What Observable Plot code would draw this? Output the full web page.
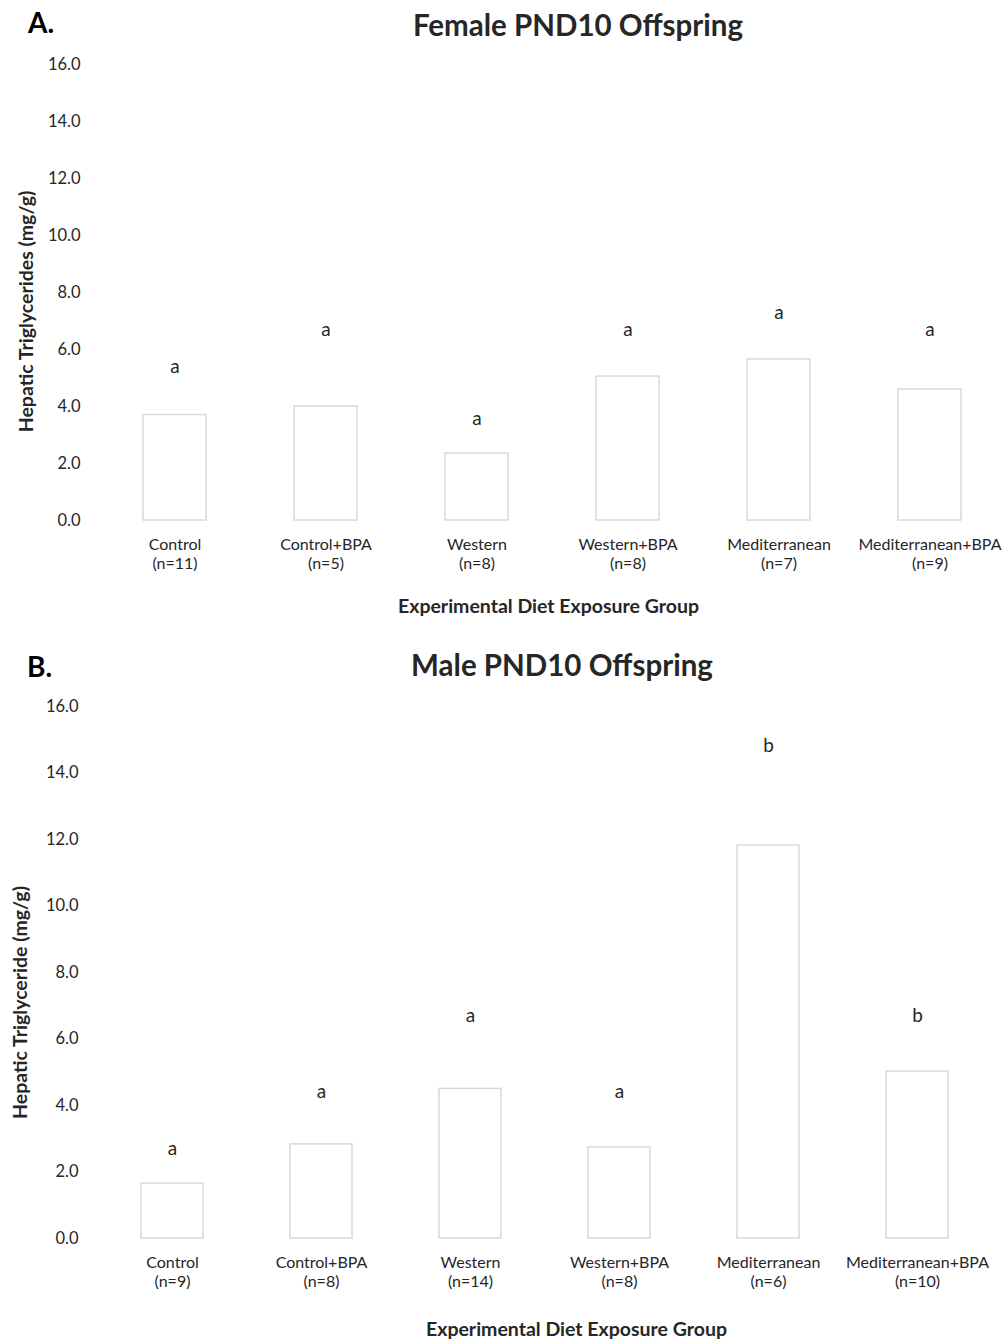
<!DOCTYPE html>
<html>
<head>
<meta charset="utf-8">
<script src="https://cdn.jsdelivr.net/npm/d3@7"></script>
<script src="https://cdn.jsdelivr.net/npm/@observablehq/plot@0.6"></script>
<style>
  html, body { margin: 0; padding: 0; background: #fff; }
  body { width: 1006px; height: 1339px; position: relative; overflow: hidden; font-family: Lato, "Open Sans", sans-serif; color: #262626; }
  .tag { position: absolute; font-weight: 700; font-size: 28px; line-height: 28px; color: #000; }
  .title { position: absolute; font-weight: 700; font-size: 29.5px; line-height: 29.5px; color: #262626; transform: translateX(-50%); white-space: nowrap; }
  .plot { position: absolute; left: 0; }
</style>
</head>
<body>
<div id="root"></div>
<script>
const groups = ["Control", "Control+BPA", "Western", "Western+BPA", "Mediterranean", "Mediterranean+BPA"];
const yTicks = [0, 2, 4, 6, 8, 10, 12, 14, 16];

// Panel A: female
const femaleN = [11, 5, 8, 8, 7, 9];
const femaleTG = [3.7, 4.0, 2.35, 5.05, 5.65, 4.6];
const femaleLetters = ["a", "a", "a", "a", "a", "a"];
const femaleLetterY = [5.4, 6.7, 3.55, 6.7, 7.3, 6.7];

// Panel B: male
const maleN = [9, 8, 14, 8, 6, 10];
const maleTG = [1.65, 2.83, 4.5, 2.74, 11.82, 5.02];
const maleLetters = ["a", "a", "a", "a", "b", "b"];
const maleLetterY = [2.7, 4.4, 6.7, 4.4, 14.8, 6.7];

const root = document.getElementById("root");

function panel(o) {
  const {tag, title, titleX, tagX, tagY, titleY, svgTop, height, marginTop, marginBottom, marginLeft, marginRight,
         ns, values, letters, letterY, yLabel, yLabelDx, yLabelDy, xLabelDx, xLabelDy} = o;
  const rows = groups.map((g, i) => ({group: g, n: ns[i], value: values[i], letter: letters[i], ly: letterY[i]}));
  const nByGroup = new Map(rows.map(d => [d.group, d.n]));

  const t = document.createElement("div");
  t.className = "tag"; t.textContent = tag;
  t.style.left = tagX + "px"; t.style.top = tagY + "px";
  root.appendChild(t);
  const h = document.createElement("div");
  h.className = "title"; h.textContent = title;
  h.style.left = titleX + "px"; h.style.top = titleY + "px";
  root.appendChild(h);

  const chart = Plot.plot({
    width: 1006,
    height,
    marginTop, marginBottom, marginLeft, marginRight,
    style: {fontFamily: "Lato, 'Open Sans', sans-serif", fontSize: "16px", color: "#262626", background: "transparent"},
    x: {domain: groups, paddingInner: 0.585, paddingOuter: 0.2925, label: null},
    y: {domain: [0, 16], label: null},
    marks: [
      Plot.barY(rows, {x: "group", y: "value", fill: "#fff", stroke: "#d9d9d9", strokeWidth: 1.5}),
      Plot.text(rows, {x: "group", y: "ly", text: "letter", fontSize: 19, fill: "#262626"}),
      Plot.axisY({ticks: yTicks, tickSize: 0, tickPadding: 18, tickFormat: d => d.toFixed(1), fontSize: 16.5, label: null}),
      Plot.axisX({tickSize: 0, tickPadding: 16, fontSize: 16, label: null, lineHeight: 1.2,
        tickFormat: g => `${g}\n(n=${nByGroup.get(g)})`}),
      Plot.text([yLabel], {frameAnchor: "left", textAnchor: "middle", lineAnchor: "middle", dx: yLabelDx, dy: yLabelDy,
        rotate: -90, fontWeight: "bold", fontSize: 19.5, fill: "#262626"}),
      Plot.text(["Experimental Diet Exposure Group"], {frameAnchor: "bottom", textAnchor: "middle", lineAnchor: "middle",
        dx: xLabelDx, dy: xLabelDy, fontWeight: "bold", fontSize: 19.5, fill: "#262626"})
    ]
  });
  const wrap = document.createElement("div");
  wrap.className = "plot";
  wrap.style.top = svgTop + "px";
  wrap.appendChild(chart);
  root.appendChild(wrap);
}

panel({
  tag: "A.", title: "Female PND10 Offspring", titleX: 578, tagX: 28, tagY: 8, titleY: 10,
  svgTop: 40, height: 580, marginTop: 24, marginBottom: 100, marginLeft: 98, marginRight: 0,
  ns: femaleN, values: femaleTG, letters: femaleLetters, letterY: femaleLetterY,
  yLabel: "Hepatic Triglycerides (mg/g)", yLabelDx: -72, yLabelDy: 19, xLabelDx: -4, xLabelDy: 86
});

panel({
  tag: "B.", title: "Male PND10 Offspring", titleX: 562, tagX: 27, tagY: 652, titleY: 650,
  svgTop: 690, height: 649, marginTop: 16, marginBottom: 101, marginLeft: 96, marginRight: 14,
  ns: maleN, values: maleTG, letters: maleLetters, letterY: maleLetterY,
  yLabel: "Hepatic Triglyceride (mg/g)", yLabelDx: -76, yLabelDy: 30, xLabelDx: 32, xLabelDy: 91
});
</script>
</body>
</html>
